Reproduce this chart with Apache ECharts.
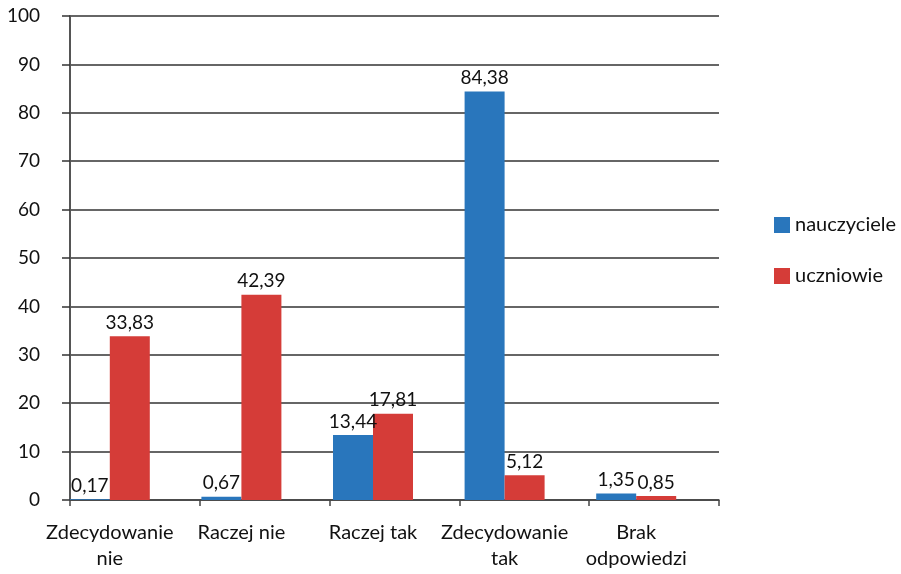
<!DOCTYPE html>
<html><head><meta charset="utf-8">
<script src="https://cdn.jsdelivr.net/npm/echarts@6/dist/echarts.min.js"></script>
<style>html,body{margin:0;padding:0;background:#fff}#c{width:901px;height:574px}</style>
</head><body><div id="c"></div>
<script>
var categories = ['Zdecydowanie\nnie', 'Raczej nie', 'Raczej tak', 'Zdecydowanie\ntak', 'Brak\nodpowiedzi'];
var nauczyciele = [0.17, 0.67, 13.44, 84.38, 1.35];
var uczniowie = [33.83, 42.39, 17.81, 5.12, 0.85];
var seriesNames = ['nauczyciele', 'uczniowie'];

var FONT = 'Lato';
var fmt = function (p) { return String(p.value).replace('.', ','); };
var chart = echarts.init(document.getElementById('c'), null, {renderer: 'canvas'});
chart.setOption({
  animation: false,
  backgroundColor: '#fff',
  textStyle: {fontFamily: FONT},
  grid: [
    {left: 44, right: 199, top: 16, bottom: 74},
    {left: 70, right: 182, top: 16, bottom: 74}
  ],
  legend: {
    orient: 'vertical', left: 769, top: 210,
    itemWidth: 16, itemHeight: 16, itemGap: 31,
    icon: 'rect',
    textStyle: {fontFamily: FONT, fontSize: 20, color: '#111'},
    data: seriesNames
  },
  xAxis: [
    {type: 'category', gridIndex: 0, data: categories,
     axisLine: {show: false}, axisTick: {show: false},
     axisLabel: {fontFamily: FONT, fontSize: 20, color: '#111', margin: 20, lineHeight: 26, interval: 0}},
    {type: 'category', gridIndex: 1, data: categories,
     axisLine: {show: true, lineStyle: {color: '#444', width: 1.5}},
     axisTick: {show: true, length: 6, lineStyle: {color: '#444', width: 1.5}},
     axisLabel: {show: false}}
  ],
  yAxis: [
    {type: 'value', gridIndex: 0, min: 0, max: 100, interval: 10, show: false, splitLine: {show: false}},
    {type: 'value', gridIndex: 1, min: 0, max: 100, interval: 10,
     axisLine: {show: true, lineStyle: {color: '#555', width: 2}},
     axisTick: {show: true, length: 8, lineStyle: {color: '#333', width: 1.5}},
     splitLine: {show: true, lineStyle: {color: '#333', width: 1.5}},
     axisLabel: {fontFamily: FONT, fontSize: 19, color: '#111', margin: 30}}
  ],
  series: [
    {name: seriesNames[0], type: 'bar', xAxisIndex: 0, yAxisIndex: 0, data: nauczyciele,
     barWidth: 40, barGap: '0%', itemStyle: {color: '#2976BC'},
     label: {show: true, position: 'top', distance: 4, formatter: fmt, fontFamily: FONT, fontSize: 19, color: '#111'}},
    {name: seriesNames[1], type: 'bar', xAxisIndex: 0, yAxisIndex: 0, data: uczniowie,
     barWidth: 40, barGap: '0%', itemStyle: {color: '#D53C38'},
     label: {show: true, position: 'top', distance: 4, formatter: fmt, fontFamily: FONT, fontSize: 19, color: '#111'}}
  ]
});
</script></body></html>
